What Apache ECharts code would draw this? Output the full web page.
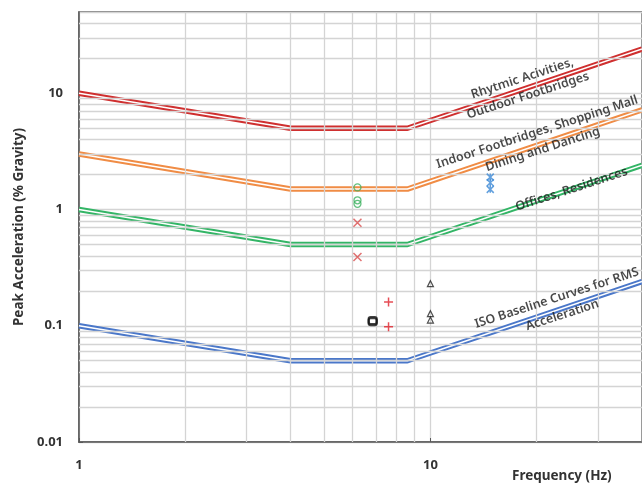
<!DOCTYPE html>
<html><head><meta charset="utf-8">
<script src="https://cdn.jsdelivr.net/npm/echarts@6/dist/echarts.min.js"></script>
<style>html,body{margin:0;padding:0;overflow:hidden;background:#fff}#c{width:642px;height:486px}</style>
</head><body><div id="c"></div>
<script>
// Curves (ISO baseline multiples)
var curveFreq = [1, 4, 8.6, 40];
var rhythmic = [10, 5, 5, 24];
var indoor = [3, 1.5, 1.5, 7.2];
var offices = [1, 0.5, 0.5, 2.4];
var isoBase = [0.1, 0.05, 0.05, 0.24];

// Measured points
var greenCircleX = [6.2, 6.2, 6.2];
var greenCircleY = [1.55, 1.2, 1.12];
var redCrossX = [6.2, 6.2];
var redCrossY = [0.77, 0.39];
var blackSquareX = [6.85, 6.85];
var blackSquareY = [0.108, 0.111];
var redPlusX = [7.6, 7.6];
var redPlusY = [0.16, 0.098];
var blackTriX = [10, 10, 10];
var blackTriY = [0.23, 0.127, 0.112];
var blueStarX = [14.8, 14.8, 14.8];
var blueStarY = [1.9, 1.7, 1.49];

// Annotation texts and their anchor (data coords)
var annoTexts = ['Rhytmic Acivities,\nOutdoor Footbridges', 'Indoor Footbridges, Shopping Mall\nDining and Dancing', 'Offices, Residences', 'ISO Baseline Curves for RMS\nAcceleration'];
var annoX = [18.6, 20.5, 25.2, 23.3];
var annoY = [11.3, 3.9, 1.49, 0.146];

// Gridline values
var minorX = [2, 3, 4, 5, 6, 7, 8, 9, 20, 30, 40];
var minorY = [0.02, 0.03, 0.04, 0.05, 0.06, 0.07, 0.08, 0.09, 0.2, 0.3, 0.4, 0.5, 0.6, 0.7, 0.8, 0.9, 2, 3, 4, 5, 6, 7, 8, 9, 20, 30, 40];

var xTitle = 'Frequency (Hz)';
var yTitle = 'Peak Acceleration (% Gravity)';

function zip(a, b) { return a.map(function (v, i) { return [v, b[i]]; }); }

var gridColor = '#d4d4d4';
var font = 'Noto Sans';

function dbl(name, ys, color) {
  return [
    { type: 'line', name: name, data: zip(curveFreq, ys), symbol: 'none', z: 3,
      lineStyle: { color: color, width: 5.5 }, silent: true },
    { type: 'line', name: name + '_c', data: zip(curveFreq, ys), symbol: 'none', z: 4,
      lineStyle: { color: '#ffffff', width: 1.5 }, silent: true }
  ];
}

function pts(xs, ys, symbol, size, color, bw) {
  return { type: 'scatter', data: zip(xs, ys), symbol: symbol, symbolSize: size, z: 6,
    itemStyle: { color: 'none', borderColor: color, borderWidth: bw } };
}

var series = [];
series.push({
  type: 'line', data: [], z: 1, silent: true,
  markLine: { silent: true, symbol: 'none', animation: false, label: { show: false },
    lineStyle: { color: gridColor, width: 1.3, type: 'solid' },
    data: minorX.map(function (v) { return { xAxis: v }; }).concat(minorY.map(function (v) { return { yAxis: v }; })) }
});
series = series.concat(dbl('r', rhythmic, '#cf2f2f'), dbl('o', indoor, '#f08c45'), dbl('g', offices, '#33b566'), dbl('b', isoBase, '#4a77c9'));
series.push(pts(greenCircleX, greenCircleY, 'circle', 7, '#3cb05f', 1.3));
series.push(pts(redCrossX, redCrossY, 'path://M0,0L10,10M10,0L0,10', 8, '#d94c4c', 1.5));
series.push(pts(blackSquareX, blackSquareY, 'roundRect', [8, 7], '#111111', 2));
series.push(pts(redPlusX, redPlusY, 'path://M5,0L5,10M0,5L10,5', 9, '#e0202a', 1.5));
series.push(pts(blackTriX, blackTriY, 'triangle', 6, '#222222', 1.2));
series.push(pts(blueStarX, blueStarY, 'path://M0,0L10,10M10,0L0,10M5,0L5,10', 7, '#3d8ad6', 1.5));
series.push({
  type: 'scatter', symbolSize: 0, z: 8, silent: true,
  data: annoTexts.map(function (t, i) { return { name: t, value: [annoX[i], annoY[i]] }; }),
  label: { show: true, position: 'inside', formatter: '{b}', rotate: 18, align: 'center', verticalAlign: 'middle',
    fontFamily: font, fontSize: 12.5, fontWeight: 600, color: '#1a1a1a', lineHeight: 18 }
});

var chart = echarts.init(document.getElementById('c'), null, { renderer: 'canvas' });
chart.setOption({
  animation: false,
  backgroundColor: '#ffffff',
  grid: { left: 79, top: 12, width: 565, height: 430, show: true, borderColor: '#595959', borderWidth: 1.5 },
  xAxis: {
    type: 'log', logBase: 10, min: 1, max: 40,
    axisLine: { lineStyle: { color: '#595959', width: 1.5 } },
    axisTick: { show: true, inside: true, length: 4, lineStyle: { color: '#595959' } },
    splitLine: { show: true, lineStyle: { color: gridColor, width: 1.3 } },
    axisLabel: { margin: 17, fontFamily: font, fontSize: 13, fontWeight: 'bold', color: '#333',
      showMaxLabel: false,
      formatter: function (v) { var l = Math.log10(v); return Math.abs(l - Math.round(l)) < 1e-6 ? String(v) : ''; } }
  },
  yAxis: {
    type: 'log', logBase: 10, min: 0.01, max: 50,
    name: yTitle, nameLocation: 'middle', nameGap: 48,
    nameTextStyle: { fontFamily: font, fontSize: 13.5, fontWeight: 'bold', color: '#333' },
    axisLine: { show: true, lineStyle: { color: '#595959', width: 1.5 } },
    axisTick: { show: true, inside: true, length: 4, lineStyle: { color: '#595959' } },
    splitLine: { show: true, lineStyle: { color: gridColor, width: 1.3 } },
    axisLabel: { margin: 16, fontFamily: font, fontSize: 13, fontWeight: 'bold', color: '#333',
      showMaxLabel: false,
      formatter: function (v) { var l = Math.log10(v); return Math.abs(l - Math.round(l)) < 1e-6 ? String(Number(v.toPrecision(3))) : ''; } }
  },
  graphic: [{ type: 'text', left: 512, top: 469,
    style: { text: xTitle, fontFamily: font, fontSize: 13.5, fontWeight: 'bold', fill: '#333' } }],
  series: series
});
</script></body></html>
